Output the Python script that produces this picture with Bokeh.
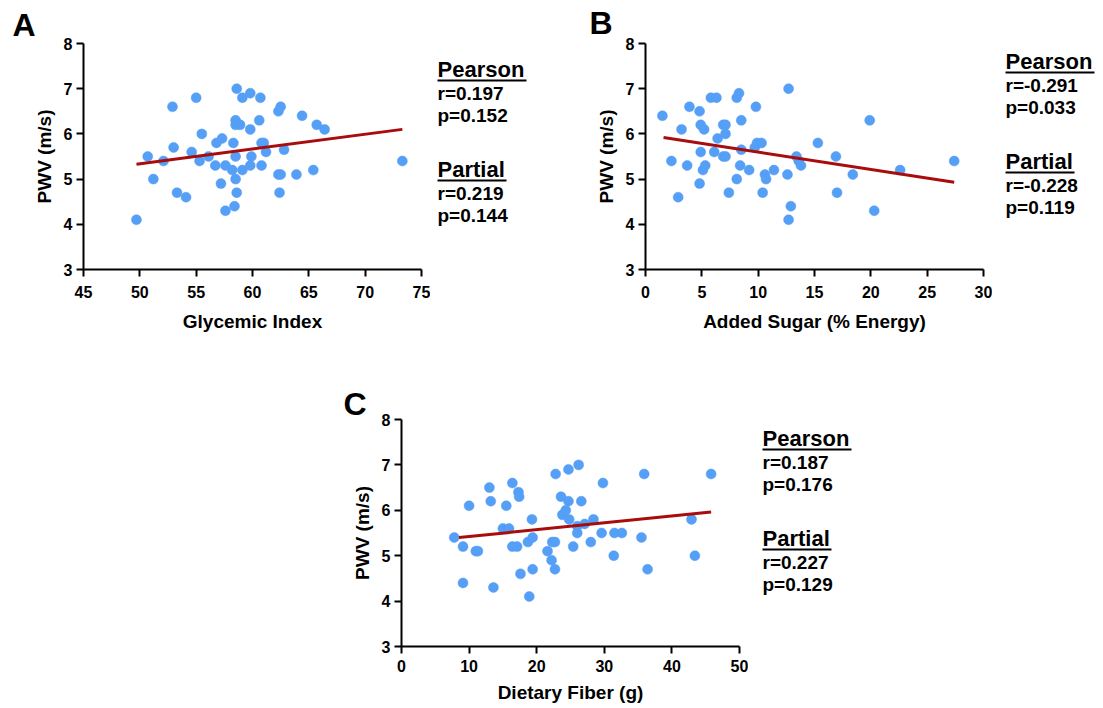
import math
from bokeh.plotting import figure
from bokeh.models import Range1d, Spacer, FixedTicker
from bokeh.layouts import row, column
from bokeh.core.properties import value
from bokeh.embed import file_html
from bokeh.resources import INLINE

# ---------------- data ----------------
gi_x = [49.7, 50.7, 51.2, 52.1, 52.9, 53.0, 53.3, 54.1, 54.6, 55.0, 55.3, 55.5, 56.1, 56.7,
        56.8, 57.3, 57.2, 57.6, 57.6, 58.2, 58.3, 58.5, 58.5, 58.4, 58.6, 58.6, 58.5, 58.5,
        58.9, 59.1, 59.1, 59.8, 59.8, 59.9, 59.8, 60.7, 60.6, 60.8, 61.0, 60.8, 61.2, 62.3,
        62.5, 62.3, 62.5, 62.4, 62.8, 63.9, 64.4, 65.4, 65.7, 66.4, 73.3]
gi_y = [4.1, 5.5, 5.0, 5.4, 6.6, 5.7, 4.7, 4.6, 5.6, 6.8, 5.4, 6.0, 5.5, 5.3,
        5.8, 5.9, 4.9, 5.3, 4.3, 5.2, 5.8, 5.0, 5.5, 4.4, 4.7, 7.0, 6.3, 6.2,
        6.2, 6.8, 5.2, 6.9, 6.1, 5.5, 5.3, 6.8, 6.3, 5.8, 5.8, 5.3, 5.6, 6.5,
        6.6, 5.1, 5.1, 4.7, 5.65, 5.1, 6.4, 5.2, 6.2, 6.1, 5.4]
gi_fit_x = [49.7, 73.3]
gi_fit_y = [5.33, 6.10]

sugar_x = [1.5, 2.3, 2.9, 3.2, 3.7, 3.9, 4.8, 4.8, 4.9, 4.9, 5.2, 5.1, 5.3, 5.8, 6.3,
           6.1, 6.4, 6.9, 7.1, 6.9, 7.1, 7.1, 7.4, 8.1, 8.3, 8.5, 8.5, 8.4, 8.1, 9.2,
           9.8, 9.7, 9.9, 10.3, 10.4, 10.6, 10.7, 11.4, 12.6, 12.7, 12.7, 12.9, 13.4,
           13.6, 13.8, 15.3, 16.9, 17.0, 18.4, 19.9, 20.3, 22.6, 27.4]
sugar_y = [6.4, 5.4, 4.6, 6.1, 5.3, 6.6, 6.5, 4.9, 6.2, 5.6, 6.1, 5.2, 5.3, 6.8, 6.8,
           5.6, 5.9, 6.2, 6.2, 5.5, 5.5, 6.0, 4.7, 6.8, 6.9, 6.3, 5.65, 5.3, 5.0, 5.2,
           6.6, 5.7, 5.8, 5.8, 4.7, 5.1, 5.0, 5.2, 5.1, 7.0, 4.1, 4.4, 5.5,
           5.4, 5.3, 5.8, 5.5, 4.7, 5.1, 6.3, 4.3, 5.2, 5.4]
sugar_fit_x = [1.6, 27.4]
sugar_fit_y = [5.92, 4.93]

fiber_x = [7.8, 9.1, 9.1, 10.0, 11.0, 11.3, 13.0, 13.2, 13.6, 15.0, 15.5, 15.9, 16.4, 16.4,
           17.1, 17.3, 17.4, 17.6, 18.7, 19.3, 19.4, 19.4, 18.9, 21.6, 22.2, 22.3, 22.7,
           22.7, 22.8, 23.6, 23.8, 24.3, 24.7, 24.8, 24.7, 25.4, 26.0, 26.0, 26.2, 26.6,
           27.1, 28.0, 28.4, 29.6, 29.8, 31.5, 31.4, 32.6, 35.5, 35.9, 36.4, 42.9, 43.4, 45.8]
fiber_y = [5.4, 5.2, 4.4, 6.1, 5.1, 5.1, 6.5, 6.2, 4.3, 5.6, 6.1, 5.6, 6.6, 5.2,
           5.2, 6.4, 6.3, 4.6, 5.3, 5.8, 5.4, 4.7, 4.1, 5.1, 4.9, 5.3, 5.3,
           4.7, 6.8, 6.3, 5.9, 6.0, 6.2, 5.8, 6.9, 5.2, 5.65, 5.5, 7.0, 6.2,
           5.7, 5.3, 5.8, 5.5, 6.6, 5.5, 5.0, 5.5, 5.4, 6.8, 4.7, 5.8, 5.0, 6.8]
fiber_fit_x = [8.5, 45.8]
fiber_fit_y = [5.40, 5.96]

y_ticks = [3, 4, 5, 6, 7, 8]
gi_ticks = [45, 50, 55, 60, 65, 70, 75]
sugar_ticks = [0, 5, 10, 15, 20, 25, 30]
fiber_ticks = [0, 10, 20, 30, 40, 50]
y_label = "PWV (m/s)"

stat_heads = ["Pearson", "Partial"]
gi_stats = ["r=0.197", "p=0.152", "r=0.219", "p=0.144"]
sugar_stats = ["r=-0.291", "p=0.033", "r=-0.228", "p=0.119"]
fiber_stats = ["r=0.187", "p=0.176", "r=0.227", "p=0.129"]

FONT = "Liberation Sans"
DOT = "#559FF6"
LINE = "#A80C0C"
MID = 0.35  # distance from baseline to text middle, in em


def blank(width, height):
    f = figure(width=width, height=height, output_backend="svg", toolbar_location=None,
               x_range=Range1d(0, width), y_range=Range1d(0, height),
               x_axis_location=None, y_axis_location=None, frame_align=False,
               min_border=0, min_border_left=0, min_border_right=0,
               min_border_top=0, min_border_bottom=0)
    f.outline_line_color = None
    f.grid.visible = False
    return f


def side_panel(letter, width, height, lx, base, label_x, label_y):
    # panel letter (baseline `base` px from top) and the rotated y-axis title
    f = blank(width, height)
    f.text(x=[lx], y=[height - (base - MID * 32)], text=[letter], text_font=value(FONT),
           text_font_style="bold", text_font_size="32px", text_color="black",
           text_baseline="middle", text_align="left")
    f.text(x=[label_x], y=[height - label_y], text=[y_label], angle=math.pi / 2,
           text_font=value(FONT), text_font_style="bold", text_font_size="19px",
           text_color="black", text_baseline="middle", text_align="center")
    return f


def stats_panel(stats, width, height, tx, ty):
    # ty: baseline of the first heading in px from the panel's top
    f = blank(width, height)
    hoffs = [0, 100]
    voffs = [23, 45, 123, 145]
    f.text(x=[tx] * 2, y=[height - (ty + o - MID * 22) for o in hoffs], text=stat_heads,
           text_font=value(FONT), text_font_style="bold", text_font_size="22px",
           text_color="black", text_baseline="middle", text_align="left")
    f.text(x=[tx] * 4, y=[height - (ty + o - MID * 19) for o in voffs], text=stats,
           text_font=value(FONT), text_font_style="bold", text_font_size="19px",
           text_color="black", text_baseline="middle", text_align="left")
    widths = [89, 69]
    f.segment(x0=[tx] * 2, x1=[tx + w for w in widths],
              y0=[height - (ty + o + 3) for o in hoffs],
              y1=[height - (ty + o + 3) for o in hoffs], line_color="black", line_width=2)
    return f


def scatter_panel(xs, ys, fx, fy, ticks, xlabel, width, height, bl, br, bt, bb, tsd, lsd):
    p = figure(width=width, height=height, output_backend="svg", toolbar_location=None,
               x_range=Range1d(ticks[0], ticks[-1]), y_range=Range1d(y_ticks[0], y_ticks[-1]),
               frame_align=False,
               min_border_left=bl, min_border_right=br, min_border_top=bt, min_border_bottom=bb)
    p.outline_line_color = None
    p.grid.visible = False
    for ax in (p.xaxis[0], p.yaxis[0]):
        ax.axis_line_width = 2
        ax.axis_line_color = "black"
        ax.major_tick_line_width = 2
        ax.major_tick_line_color = "black"
        ax.major_tick_out = 7
        ax.major_tick_in = 0
        ax.minor_tick_line_color = None
        ax.major_label_text_font = FONT
        ax.major_label_text_font_style = "bold"
        ax.major_label_text_font_size = "16px"
        ax.major_label_text_color = "black"
        ax.axis_label_text_font = FONT
        ax.axis_label_text_font_style = "bold"
        ax.axis_label_text_font_size = "19px"
        ax.axis_label_text_color = "black"
    p.xaxis[0].ticker = FixedTicker(ticks=ticks)
    p.yaxis[0].ticker = FixedTicker(ticks=y_ticks)
    p.xaxis[0].axis_label = xlabel
    p.xaxis[0].major_label_standoff = tsd
    p.yaxis[0].major_label_standoff = 4
    p.xaxis[0].axis_label_standoff = lsd

    p.scatter(xs, ys, size=10, fill_color=DOT, line_color=DOT, line_width=0.5)
    p.line(fx, fy, line_color=LINE, line_width=3)
    return p


# top row: side A 0..56, panel A 56..430, stats 430..562,
#          side B 562..618, panel B 618..992, stats 992..1103
sideA = side_panel("A", 56, 360, 12, 36, 43.5, 156)
pA = scatter_panel(gi_x, gi_y, gi_fit_x, gi_fit_y, gi_ticks, "Glycemic Index",
                   374, 360, 27, 9, 43, 91, 9, 10)
sA = stats_panel(gi_stats, 132, 360, 7, 77)
sideB = side_panel("B", 56, 360, 27, 34, 43.5, 156)
pB = scatter_panel(sugar_x, sugar_y, sugar_fit_x, sugar_fit_y, sugar_ticks,
                   "Added Sugar (% Energy)", 374, 360, 27, 9, 43, 91, 9, 10)
sB = stats_panel(sugar_stats, 111, 360, 13, 69)

# bottom row: spacer 0..318, side C 318..374, panel C 374..748, stats 748..1103
sideC = side_panel("C", 56, 348, 25, 55, 43.5, 172.5)
pC = scatter_panel(fiber_x, fiber_y, fiber_fit_x, fiber_fit_y, fiber_ticks,
                   "Dietary Fiber (g)", 374, 348, 27, 9, 59, 62, 6, 7)
sC = stats_panel(fiber_stats, 355, 348, 14, 86)

top = row(sideA, pA, sA, sideB, pB, sB)
bottom = row(Spacer(width=318, height=348), sideC, pC, sC)
layout = column(top, bottom)
open("out.html", "w").write(file_html(layout, INLINE))
